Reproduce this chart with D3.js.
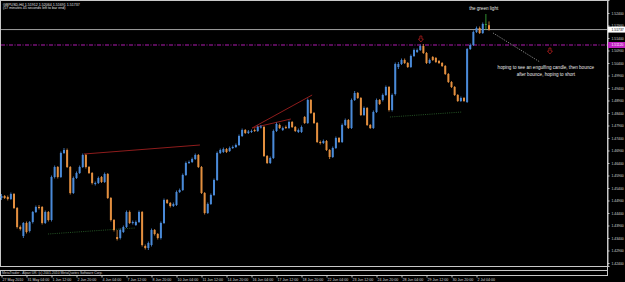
<!DOCTYPE html>
<html>
<head>
<meta charset="utf-8">
<script src="https://cdn.jsdelivr.net/npm/d3@7"></script>
<style>
  html, body { margin: 0; padding: 0; background: #000; }
  svg { display: block; }
  text { font-family: "Liberation Sans", Arial, sans-serif; }
</style>
</head>
<body>
<div id="chart"></div>
<script>
/*
 * GBPUSD H4 candlestick chart, MetaTrader style.
 * Prices, one bar per H4 candle.
 */

var opens = [
  1.4500, 1.4508, 1.4504, 1.4496, 1.4516, 1.4460, 1.4384, 1.4348, 1.4400, 1.4368,
  1.4404, 1.4444, 1.4464, 1.4464, 1.4400, 1.4444, 1.4412, 1.4584, 1.4624, 1.4584,
  1.4680, 1.4692, 1.4624, 1.4520, 1.4580, 1.4600, 1.4624, 1.4672, 1.4624, 1.4600,
  1.4556, 1.4560, 1.4584, 1.4564, 1.4596, 1.4500, 1.4412, 1.4344, 1.4340, 1.4364,
  1.4384, 1.4444, 1.4400, 1.4392, 1.4404, 1.4444, 1.4308, 1.4300, 1.4312, 1.4372,
  1.4356, 1.4340, 1.4400, 1.4492, 1.4480, 1.4468, 1.4472, 1.4524, 1.4532, 1.4592,
  1.4640, 1.4644, 1.4656, 1.4672, 1.4624, 1.4520, 1.4440, 1.4476, 1.4512, 1.4572,
  1.4680, 1.4684, 1.4696, 1.4688, 1.4700, 1.4704, 1.4712, 1.4748, 1.4772, 1.4760,
  1.4764, 1.4772, 1.4768, 1.4782, 1.4784, 1.4668, 1.4640, 1.4660, 1.4768, 1.4792,
  1.4772, 1.4784, 1.4780, 1.4804, 1.4784, 1.4764, 1.4764, 1.4824, 1.4800, 1.4892,
  1.4840, 1.4800, 1.4724, 1.4720, 1.4728, 1.4692, 1.4664, 1.4700, 1.4740, 1.4724,
  1.4792, 1.4812, 1.4780, 1.4892, 1.4920, 1.4900, 1.4832, 1.4860, 1.4792, 1.4780,
  1.4844, 1.4892, 1.4892, 1.4912, 1.4944, 1.4852, 1.4916, 1.5024, 1.5036, 1.5052,
  1.5040, 1.5024, 1.5068, 1.5084, 1.5092, 1.5108, 1.5080, 1.5040, 1.5064, 1.5060,
  1.5048, 1.5040, 1.5028, 1.4996, 1.4964, 1.4944, 1.4912, 1.4888, 1.4900, 1.4884,
  1.5096, 1.5112, 1.5164, 1.5180, 1.5160, 1.5196, 1.51912
];

var highs = [
  1.4516, 1.4512, 1.4510, 1.4522, 1.4520, 1.4464, 1.4390, 1.4404, 1.4406, 1.4408,
  1.4448, 1.4470, 1.4472, 1.4468, 1.4450, 1.4448, 1.4590, 1.4630, 1.4628, 1.4686,
  1.4700, 1.4698, 1.4628, 1.4586, 1.4606, 1.4630, 1.4678, 1.4676, 1.4628, 1.4604,
  1.4566, 1.4586, 1.4588, 1.4602, 1.4600, 1.4504, 1.4416, 1.4372, 1.4378, 1.4390,
  1.4450, 1.4450, 1.4410, 1.4410, 1.4450, 1.4448, 1.4314, 1.4326, 1.4378, 1.4376,
  1.4360, 1.4406, 1.4498, 1.4496, 1.4484, 1.4482, 1.4530, 1.4538, 1.4598, 1.4646,
  1.4650, 1.4662, 1.4678, 1.4676, 1.4628, 1.4524, 1.4482, 1.4518, 1.4578, 1.4686,
  1.4698, 1.4702, 1.4700, 1.4706, 1.4710, 1.4718, 1.4754, 1.4778, 1.4776, 1.4772,
  1.4774, 1.4778, 1.4790, 1.4792, 1.4788, 1.4672, 1.4666, 1.4774, 1.4802, 1.4798,
  1.4786, 1.4790, 1.4810, 1.4808, 1.4788, 1.4778, 1.4790, 1.4828, 1.4898, 1.4896,
  1.4844, 1.4804, 1.4730, 1.4734, 1.4732, 1.4696, 1.4706, 1.4746, 1.4744, 1.4798,
  1.4818, 1.4816, 1.4898, 1.4928, 1.4924, 1.4904, 1.4866, 1.4864, 1.4796, 1.4850,
  1.4898, 1.4896, 1.4918, 1.4950, 1.4948, 1.4918, 1.5042, 1.5044, 1.5058, 1.5058,
  1.5044, 1.5074, 1.5098, 1.5098, 1.5114, 1.5116, 1.5084, 1.5058, 1.5068, 1.5064,
  1.5052, 1.5044, 1.5032, 1.5000, 1.4968, 1.4948, 1.4916, 1.4906, 1.4904, 1.5100,
  1.5118, 1.5170, 1.5186, 1.5186, 1.5202, 1.5236, 1.52064
];

var lows = [
  1.4492, 1.4496, 1.4490, 1.4492, 1.4456, 1.4378, 1.4370, 1.4340, 1.4358, 1.4362,
  1.4398, 1.4440, 1.4454, 1.4394, 1.4396, 1.4406, 1.4406, 1.4578, 1.4578, 1.4580,
  1.4676, 1.4620, 1.4514, 1.4516, 1.4576, 1.4596, 1.4620, 1.4618, 1.4596, 1.4554,
  1.4550, 1.4556, 1.4560, 1.4560, 1.4496, 1.4406, 1.4366, 1.4330, 1.4334, 1.4360,
  1.4380, 1.4396, 1.4394, 1.4388, 1.4400, 1.4306, 1.4294, 1.4292, 1.4306, 1.4350,
  1.4334, 1.4334, 1.4396, 1.4476, 1.4462, 1.4464, 1.4468, 1.4520, 1.4528, 1.4588,
  1.4636, 1.4640, 1.4652, 1.4620, 1.4516, 1.4434, 1.4436, 1.4472, 1.4508, 1.4568,
  1.4676, 1.4680, 1.4680, 1.4684, 1.4696, 1.4700, 1.4708, 1.4744, 1.4756, 1.4756,
  1.4760, 1.4764, 1.4764, 1.4778, 1.4664, 1.4636, 1.4636, 1.4656, 1.4764, 1.4776,
  1.4768, 1.4776, 1.4776, 1.4780, 1.4764, 1.4760, 1.4760, 1.4796, 1.4796, 1.4836,
  1.4796, 1.4720, 1.4714, 1.4716, 1.4688, 1.4656, 1.4660, 1.4696, 1.4720, 1.4720,
  1.4788, 1.4776, 1.4776, 1.4888, 1.4896, 1.4828, 1.4828, 1.4788, 1.4776, 1.4776,
  1.4840, 1.4872, 1.4886, 1.4908, 1.4846, 1.4846, 1.4910, 1.5016, 1.5032, 1.5036,
  1.5020, 1.5020, 1.5064, 1.5080, 1.5088, 1.5076, 1.5036, 1.5036, 1.5048, 1.5040,
  1.5036, 1.5024, 1.4992, 1.4960, 1.4940, 1.4908, 1.4884, 1.4884, 1.4884, 1.4880,
  1.5092, 1.5108, 1.5160, 1.5156, 1.5156, 1.5172, 1.51691
];

var closes = [
  1.4508, 1.4500, 1.4496, 1.4516, 1.4460, 1.4384, 1.4376, 1.4400, 1.4364, 1.4404,
  1.4444, 1.4464, 1.4460, 1.4400, 1.4444, 1.4412, 1.4584, 1.4624, 1.4584, 1.4680,
  1.4692, 1.4624, 1.4520, 1.4580, 1.4600, 1.4624, 1.4672, 1.4624, 1.4600, 1.4560,
  1.4560, 1.4580, 1.4564, 1.4596, 1.4500, 1.4412, 1.4372, 1.4336, 1.4372, 1.4384,
  1.4444, 1.4400, 1.4404, 1.4404, 1.4444, 1.4312, 1.4300, 1.4320, 1.4372, 1.4356,
  1.4340, 1.4400, 1.4492, 1.4480, 1.4468, 1.4476, 1.4524, 1.4532, 1.4592, 1.4640,
  1.4644, 1.4656, 1.4672, 1.4624, 1.4520, 1.4440, 1.4476, 1.4512, 1.4572, 1.4680,
  1.4692, 1.4696, 1.4684, 1.4700, 1.4704, 1.4712, 1.4748, 1.4772, 1.4760, 1.4766,
  1.4768, 1.4768, 1.4784, 1.4786, 1.4668, 1.4640, 1.4660, 1.4768, 1.4796, 1.4780,
  1.4780, 1.4780, 1.4804, 1.4784, 1.4768, 1.4772, 1.4784, 1.4800, 1.4892, 1.4840,
  1.4800, 1.4724, 1.4720, 1.4728, 1.4692, 1.4664, 1.4700, 1.4740, 1.4724, 1.4792,
  1.4812, 1.4780, 1.4892, 1.4920, 1.4900, 1.4832, 1.4860, 1.4792, 1.4780, 1.4844,
  1.4892, 1.4876, 1.4912, 1.4944, 1.4852, 1.4912, 1.5036, 1.5036, 1.5052, 1.5040,
  1.5024, 1.5068, 1.5092, 1.5092, 1.5108, 1.5080, 1.5040, 1.5052, 1.5052, 1.5044,
  1.5040, 1.5028, 1.4996, 1.4964, 1.4944, 1.4912, 1.4888, 1.4900, 1.4888, 1.5096,
  1.5112, 1.5164, 1.5180, 1.5160, 1.5196, 1.5196, 1.51737
];

// one label every 8 bars
var timeLabels = ["27 May 2010", "31 May 04:00", "1 Jun 12:00", "2 Jun 20:00", "4 Jun 04:00",
  "7 Jun 12:00", "8 Jun 20:00", "10 Jun 04:00", "11 Jun 12:00", "14 Jun 20:00",
  "16 Jun 04:00", "17 Jun 12:00", "18 Jun 20:00", "22 Jun 04:00", "23 Jun 12:00",
  "24 Jun 20:00", "28 Jun 04:00", "29 Jun 12:00", "30 Jun 20:00", "2 Jul 04:00"];
var timeLabelBars = [0, 8, 16, 24, 32, 40, 48, 56, 64, 72, 80, 88, 96, 104, 112, 120, 128, 136, 144, 152];

var priceTicks = [1.524, 1.519, 1.514, 1.509, 1.504, 1.499, 1.494, 1.489, 1.484, 1.479, 1.474,
  1.469, 1.464, 1.459, 1.454, 1.449, 1.444, 1.439, 1.434, 1.429, 1.424];

var bidPrice = 1.51737,
  alertPrice = 1.51120;

// trend lines drawn by hand on the chart: [bar, price] -> [bar, price]
var redLines = [
  [[26.4, 1.4676], [63.5, 1.4712]],
  [[80.2, 1.4780], [99.4, 1.4912]],
  [[80.2, 1.4780], [92.6, 1.4816]]
];
var greenDots = [
  [[14.9, 1.4356], [42.7, 1.4380]],
  [[124.3, 1.4824], [147.4, 1.4844]]
];
var whiteDots = [[[157.3, 1.5160], [172.3, 1.5044]]];
var arrows = [[134.2, 1.5136], [175.5, 1.5088]];
var notes = [
  {bar: 154.3, price: 1.5252, text: "the green light"},
  {bar: 174.2, price: 1.5016, text: "hoping to see an engulfing candle, then bounce"},
  {bar: 174.2, price: 1.4989, text: "after bounce, hoping to short"}
];

var W = 625, H = 282,
  plotRight = 607,
  plotBottom = 266,
  blue = "#4a8ad8",
  orange = "#e38f3f",
  doji = "#3cb43c",
  frame = "#c8c8c8";

var svg = d3.select("#chart").append("svg")
  .attr("width", W)
  .attr("height", H);

svg.append("rect").attr("width", W).attr("height", H).attr("fill", "#000");

var x = d3.scaleLinear().domain([0, 156]).range([1.5, 489]),
  y = d3.scaleLinear().domain([1.4228, 1.5292]).range([plotBottom, 0]);

var bars = d3.range(opens.length).map(function (i) {
  return {i: i, o: opens[i], h: highs[i], l: lows[i], c: closes[i]};
});

function barColor(d) {
  if (Math.abs(d.o - d.c) < 0.00001) return doji;
  return d.c > d.o ? blue : orange;
}

// frame of the chart window
svg.append("rect")
  .attr("x", 0.5).attr("y", 0.5)
  .attr("width", plotRight).attr("height", plotBottom)
  .attr("fill", "none").attr("stroke", frame).attr("stroke-width", 1);

// indicator strip below the chart
svg.append("line").attr("x1", 0).attr("x2", plotRight + 0.5)
  .attr("y1", 270.5).attr("y2", 270.5).attr("stroke", frame);
svg.append("line").attr("x1", 0).attr("x2", plotRight + 0.5)
  .attr("y1", 275.5).attr("y2", 275.5).attr("stroke", frame);
svg.append("line").attr("x1", 0.5).attr("x2", 0.5)
  .attr("y1", 270).attr("y2", 276).attr("stroke", frame);
svg.append("line").attr("x1", plotRight + 0.5).attr("x2", plotRight + 0.5)
  .attr("y1", 266).attr("y2", 276).attr("stroke", frame);
svg.append("text")
  .attr("x", 2).attr("y", 274.3)
  .attr("fill", "#d0d0d0").style("font-size", "3.4px")
  .text("MetaTrader - Alpari UK: (c) 2001-2010 MetaQuotes Software Corp.");

// bid line and horizontal alert line
svg.append("line")
  .attr("x1", 1).attr("x2", plotRight)
  .attr("y1", y(bidPrice)).attr("y2", y(bidPrice))
  .attr("stroke", "#a0a0a0").attr("stroke-width", 1);
svg.append("line")
  .attr("x1", 1).attr("x2", plotRight)
  .attr("y1", y(alertPrice)).attr("y2", y(alertPrice))
  .attr("stroke", "#b01ab0").attr("stroke-width", 1)
  .attr("stroke-dasharray", "4,1.5,1,1.5");

// hand drawn lines
function drawLines(list, color, dash, width) {
  svg.append("g").selectAll("line")
    .data(list)
    .enter().append("line")
    .attr("x1", d => x(d[0][0])).attr("y1", d => y(d[0][1]))
    .attr("x2", d => x(d[1][0])).attr("y2", d => y(d[1][1]))
    .attr("stroke", color).attr("stroke-width", width)
    .attr("stroke-dasharray", dash);
}
drawLines(redLines, "#8e1c1c", null, 1);
drawLines(greenDots, "#2f6a2f", "1,1.2", 0.8);
drawLines(whiteDots, "#b8b8b8", "1,1.2", 0.8);

// candles
var g = svg.append("g").attr("class", "candles");
g.selectAll("line.wick")
  .data(bars)
  .enter().append("line")
  .attr("class", "wick")
  .attr("x1", d => x(d.i)).attr("x2", d => x(d.i))
  .attr("y1", d => y(d.h)).attr("y2", d => y(d.l))
  .attr("stroke", barColor).attr("stroke-width", 0.8);
g.selectAll("rect.body")
  .data(bars)
  .enter().append("rect")
  .attr("class", "body")
  .attr("x", d => x(d.i) - 1)
  .attr("width", 2)
  .attr("y", d => y(Math.max(d.o, d.c)))
  .attr("height", d => Math.max(0.8, Math.abs(y(d.o) - y(d.c))))
  .attr("fill", barColor);

// arrows
svg.append("g").selectAll("path")
  .data(arrows)
  .enter().append("path")
  .attr("transform", d => "translate(" + x(d[0]) + "," + y(d[1]) + ")")
  .attr("d", "M-1,-3 H1 V0 H2.5 L0,3 L-2.5,0 H-1 Z")
  .attr("fill", "none").attr("stroke", "#c02020").attr("stroke-width", 0.7);

// notes
svg.append("g").selectAll("text")
  .data(notes)
  .enter().append("text")
  .attr("x", d => x(d.bar)).attr("y", d => y(d.price))
  .attr("text-anchor", "middle")
  .attr("fill", "#e8e8e8")
  .style("font-size", "4.6px")
  .text(d => d.text);

// header
svg.append("text").attr("x", 3).attr("y", 5.6)
  .attr("fill", "#e0e0e0").style("font-size", "3.6px")
  .text("GBPUSD,H4  1.51912 1.52064 1.51691 1.51737");
svg.append("text").attr("x", 3).attr("y", 9.4)
  .attr("fill", "#e0e0e0").style("font-size", "3.6px")
  .text("(57 minutes 45 seconds left to bar end)");

// price axis
var yAxis = svg.append("g")
  .attr("transform", "translate(" + (plotRight + 0.5) + ",0)")
  .call(d3.axisRight(y).tickValues(priceTicks).tickFormat(d3.format(".5f")).tickSize(2).tickPadding(2));
yAxis.select(".domain").attr("stroke", frame);
yAxis.selectAll(".tick line").attr("stroke", frame);
yAxis.selectAll(".tick text").attr("fill", "#d8d8d8").style("font-size", "3.4px")
  .style("font-family", "Liberation Sans, Arial, sans-serif");

// price boxes
function priceBox(p, fill, color) {
  var b = svg.append("g").attr("transform", "translate(" + (plotRight + 1) + "," + y(p) + ")");
  b.append("rect").attr("x", 0).attr("y", -3).attr("width", 17).attr("height", 6).attr("fill", fill);
  b.append("text").attr("x", 3.5).attr("y", 1.3).attr("fill", color)
    .style("font-size", "3.4px").text(d3.format(".5f")(p));
}
priceBox(bidPrice, "#ffffff", "#000");
priceBox(alertPrice, "#c020c0", "#fff");

// time axis
var xAxis = svg.append("g")
  .attr("transform", "translate(0,275.5)")
  .call(d3.axisBottom(x).tickValues(timeLabelBars)
    .tickFormat((d, i) => timeLabels[i]).tickSize(2).tickPadding(1));
xAxis.select(".domain").remove();
xAxis.selectAll(".tick line").attr("stroke", frame);
xAxis.selectAll(".tick text").attr("fill", "#d8d8d8").style("font-size", "3.6px")
  .attr("text-anchor", "start").attr("dx", "0.5")
  .style("font-family", "Liberation Sans, Arial, sans-serif");
</script>
</body>
</html>
